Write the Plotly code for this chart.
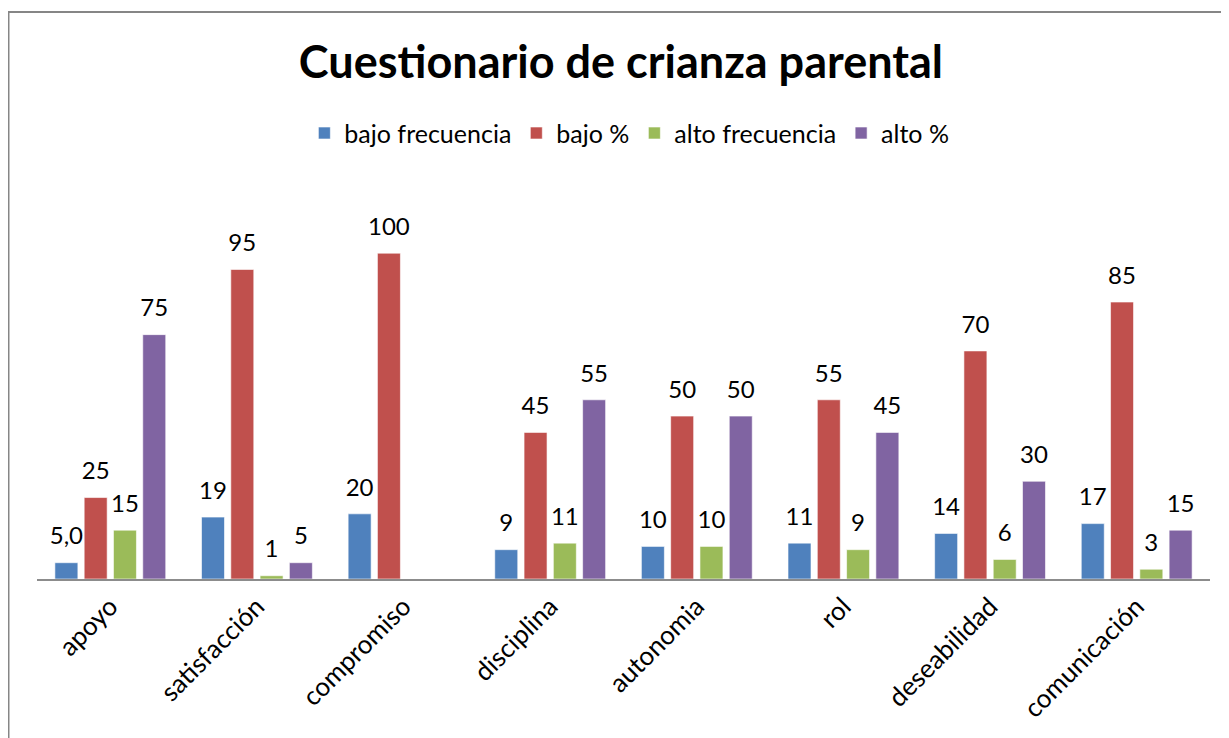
import plotly.graph_objects as go

categorias = ["apoyo", "satisfacción", "compromiso", "disciplina",
              "autonomia", "rol", "deseabilidad", "comunicación"]
bajo_frecuencia = [5.0, 19, 20, 9, 10, 11, 14, 17]
bajo_pct = [25, 95, 100, 45, 50, 55, 70, 85]
alto_frecuencia = [15, 1, None, 11, 10, 9, 6, 3]
alto_pct = [75, 5, None, 55, 50, 45, 30, 15]

bajo_frecuencia_labels = ["5,0", "19", "20", "9", "10", "11", "14", "17"]


def labels(vals):
    return ["" if v is None else f"{v:g}" for v in vals]


series = [
    ("bajo frecuencia", bajo_frecuencia, bajo_frecuencia_labels, "#4F81BD"),
    ("bajo %", bajo_pct, labels(bajo_pct), "#C0504D"),
    ("alto frecuencia", alto_frecuencia, labels(alto_frecuencia), "#9BBB59"),
    ("alto %", alto_pct, labels(alto_pct), "#8064A2"),
]

FONT = "Lato"
fig = go.Figure()
for i, (name, vals, txt, col) in enumerate(series):
    fig.add_trace(go.Bar(
        name=name, x=categorias, y=vals, marker_color=col,
        marker_line=dict(color="rgba(255,255,255,0.6)", width=1),
        offsetgroup=str(i), alignmentgroup="g",
    ))
for i, (name, vals, txt, col) in enumerate(series):
    fig.add_trace(go.Scatter(
        x=categorias, y=vals, text=txt, mode="markers+text",
        textposition="top center",
        marker=dict(size=18, color="rgba(0,0,0,0)"),
        textfont=dict(family=FONT, size=24, color="black"),
        offsetgroup=str(i), alignmentgroup="g",
        showlegend=False, hoverinfo="skip", cliponaxis=False,
    ))

fig.update_layout(
    width=1221, height=730,
    paper_bgcolor="white", plot_bgcolor="white",
    barmode="group", bargap=0.201, bargroupgap=0.215,
    scattermode="group", scattergap=0.201,
    margin=dict(l=29, r=19, t=180, b=159),
    title=dict(text="<b>Cuestionario de crianza parental</b>",
               x=0.502, xanchor="center", y=0.926, yanchor="middle",
               font=dict(family=FONT, size=45, color="black")),
    legend=dict(orientation="h", x=0.505, xanchor="center", y=1.14,
                yanchor="middle", font=dict(family=FONT, size=25, color="black"),
                itemwidth=30, traceorder="normal"),
    font=dict(family=FONT, color="black"),
)
fig.update_xaxes(showline=True, linecolor="#8C8C8C", linewidth=2,
                 tickangle=-45, tickfont=dict(family=FONT, size=26, color="black"),
                 ticks="", showgrid=False)
fig.update_yaxes(visible=False, range=[0, 120], showgrid=False)

fig.add_shape(type="rect", xref="paper", yref="paper",
              x0=-0.0243, x1=1.02, y0=-0.45, y1=1.450,
              line=dict(color="#868686", width=2), fillcolor="rgba(0,0,0,0)",
              layer="below")

fig.write_html("out.html")
